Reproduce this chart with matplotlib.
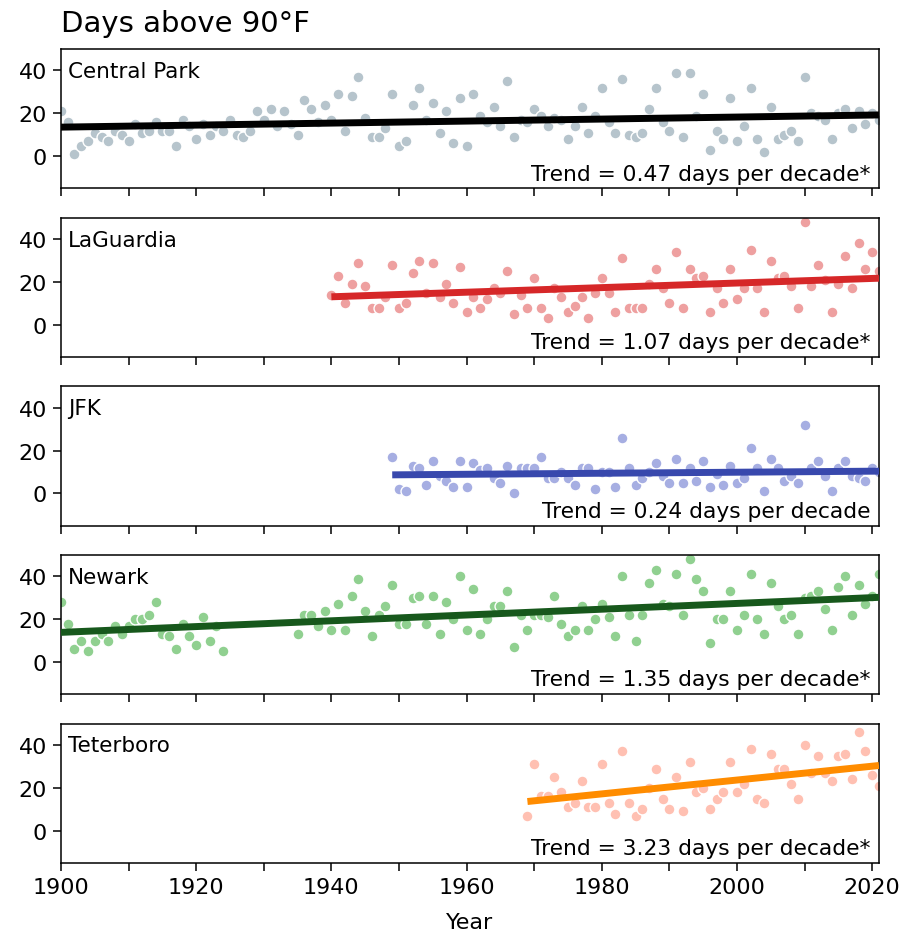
import numpy as np
import matplotlib.pyplot as plt
from matplotlib.ticker import MultipleLocator

# ── Data (days above 90°F per year) ─────────────────────────────────────────

cp_years = np.arange(1900, 2022)
cp_days = [21, 16, 1, 5, 7, 11, 9, 7, 12, 10,
           7, 15, 11, 12, 16, 12, 12, 5, 17, 14,
           8, 15, 10, 14, 12, 17, 10, 9, 12, 21,
           17, 22, 14, 21, 15, 10, 26, 22, 16, 24,
           17, 29, 12, 28, 37, 18, 9, 9, 13, 29,
           5, 7, 24, 32, 17, 25, 11, 21, 6, 27,
           5, 29, 19, 16, 23, 14, 35, 9, 17, 16,
           22, 19, 14, 18, 17, 8, 14, 23, 11, 19,
           32, 16, 11, 36, 10, 9, 11, 22, 32, 16,
           12, 39, 9, 39, 19, 29, 3, 12, 8, 27,
           7, 14, 32, 8, 2, 23, 8, 10, 12, 7,
           37, 20, 19, 17, 8, 20, 22, 13, 21, 15,
           20, 17]

lga_years = np.arange(1940, 2022)
lga_days = [14, 23, 10, 19, 29, 18, 8, 8, 13, 28,
            8, 10, 24, 30, 15, 29, 13, 19, 10, 27,
            6, 13, 8, 12, 17, 15, 25, 5, 14, 8,
            22, 8, 3, 17, 13, 6, 9, 13, 3, 15,
            22, 15, 6, 31, 8, 8, 8, 19, 26, 17,
            10, 34, 8, 26, 22, 23, 6, 17, 10, 26,
            12, 17, 35, 17, 6, 30, 22, 23, 18, 8,
            48, 18, 28, 21, 6, 19, 32, 17, 38, 26,
            34, 25]

jfk_years = np.arange(1949, 2022)
jfk_days = [17,
            2, 1, 13, 12, 4, 15, 8, 6, 3, 15,
            3, 14, 11, 12, 7, 5, 13, 0, 12, 12,
            12, 17, 7, 7, 10, 7, 4, 12, 12, 2,
            10, 10, 3, 26, 12, 4, 7, 10, 14, 8,
            5, 16, 5, 12, 6, 15, 3, 9, 4, 13,
            5, 7, 21, 12, 1, 16, 12, 6, 8, 5,
            32, 12, 15, 8, 1, 12, 15, 8, 7, 6,
            12, 10]

ewr_years = np.concatenate([np.arange(1900, 1925), np.arange(1935, 2022)])
ewr_days = [28, 18, 6, 10, 5, 10, 13, 10, 17, 13,
            17, 20, 20, 22, 28, 13, 12, 6, 18, 12,
            8, 21, 10, 17, 5,
            13, 22, 22, 17, 24,
            15, 27, 15, 31, 39, 24, 12, 22, 26, 36,
            18, 18, 30, 31, 18, 31, 13, 28, 20, 40,
            15, 34, 13, 20, 26, 26, 33, 7, 22, 15,
            22, 22, 21, 31, 18, 12, 15, 26, 15, 20,
            27, 21, 12, 40, 22, 10, 22, 37, 43, 27,
            26, 41, 22, 48, 39, 33, 9, 20, 20, 33,
            15, 22, 41, 20, 13, 37, 26, 20, 22, 13,
            30, 31, 33, 25, 15, 35, 40, 22, 36, 27,
            31, 41]

teb_years = np.arange(1969, 2022)
teb_days = [7,
            31, 16, 16, 25, 18, 11, 13, 23, 11, 11,
            31, 13, 8, 37, 13, 7, 10, 20, 29, 15,
            10, 25, 9, 32, 18, 20, 10, 15, 18, 32,
            18, 22, 38, 15, 13, 36, 29, 29, 22, 15,
            40, 27, 35, 27, 23, 35, 36, 24, 46, 37,
            26, 21]

stations = ['Central Park', 'LaGuardia', 'JFK', 'Newark', 'Teterboro']
trend_per_decade = [0.47, 1.07, 0.24, 1.35, 3.23]
trend_signif = [True, True, False, True, True]

years_list = [cp_years, lga_years, jfk_years, ewr_years, teb_years]
days_list = [cp_days, lga_days, jfk_days, ewr_days, teb_days]

dot_colors = ['#b6c4cc', '#eea0a0', '#a6aee2', '#90d090', '#ffc0b2']
line_colors = ['#000000', '#d62728', '#3848ad', '#17581c', '#ff8c00']


fig, axes = plt.subplots(5, 1, figsize=(9.03, 9.37), dpi=100, sharex=True)
fig.subplots_adjust(left=0.0675, right=0.9734, top=0.9466, bottom=0.078, hspace=0.21)

for ax, name, yrs, days, slope, sig, dc, lc in zip(
        axes, stations, years_list, days_list, trend_per_decade,
        trend_signif, dot_colors, line_colors):
    days = np.asarray(days, dtype=float)
    ax.scatter(yrs, days, s=62, color=dc, edgecolor='white', linewidth=1.0, zorder=2)

    # OLS line with the reported slope passes through the data mean
    b = slope / 10.0
    x_line = np.array([yrs.min(), yrs.max()])
    y_line = days.mean() + b * (x_line - yrs.mean())
    ax.plot(x_line, y_line, color=lc, lw=5, solid_capstyle='butt', zorder=3)

    ax.text(0.009, 0.915, name, transform=ax.transAxes, ha='left', va='top', fontsize=15.5)
    star = '*' if sig else ''
    ax.text(0.99, 0.035, f'Trend = {slope:.2f} days per decade{star}',
            transform=ax.transAxes, ha='right', va='bottom', fontsize=15.7)

    ax.set_ylim(-15, 50)
    ax.set_yticks([0, 20, 40])
    ax.set_xlim(1900, 2021)
    ax.xaxis.set_major_locator(MultipleLocator(20))
    ax.xaxis.set_minor_locator(MultipleLocator(10))
    ax.tick_params(axis='both', which='major', labelsize=16, length=5.5, width=1.1, pad=4.5)
    ax.tick_params(axis='x', which='minor', length=5.5, width=1.1)
    for sp in ax.spines.values():
        sp.set_linewidth(1.1)

axes[0].set_title('Days above 90°F', loc='left', fontsize=21, pad=13)
axes[-1].set_xlabel('Year', fontsize=16, labelpad=11)

plt.savefig('out.png', dpi=100)
